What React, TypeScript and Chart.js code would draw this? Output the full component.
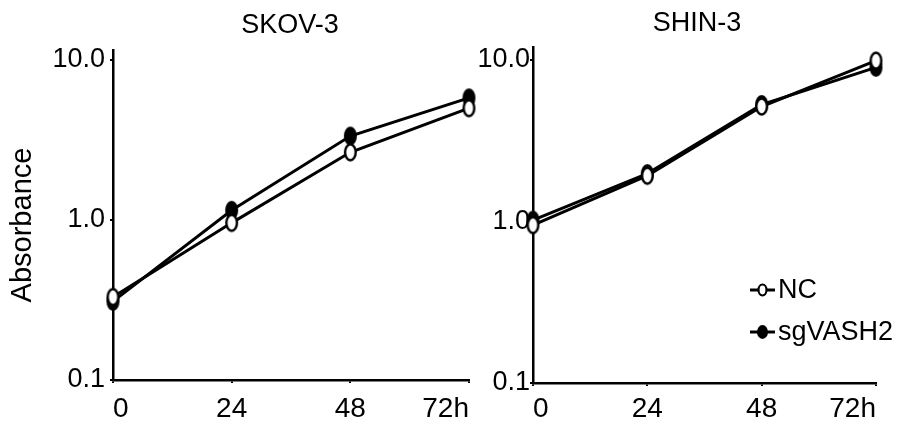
import React, { useEffect, useRef } from "react";
import { Chart, registerables } from "chart.js";

Chart.register(...registerables);

// ---- data ----
const timePoints = [0, 24, 48, 72];
const xTickLabels = ["0", "24", "48", "72h"];
const yTickValues = [0.1, 1, 10];
const yTickLabels = ["0.1", "1.0", "10.0"];
const seriesNames = ["NC", "sgVASH2"];
const panelTitles = ["SKOV-3", "SHIN-3"];
const yAxisTitle = "Absorbance";

const skovNC = [0.33, 0.96, 2.65, 5.0];
const skovSg = [0.31, 1.15, 3.35, 5.8];
const shinNC = [0.95, 1.92, 5.15, 9.9];
const shinSg = [1.02, 1.98, 5.3, 9.0];

const FONT = "'Liberation Sans', Arial, sans-serif";

function makeMarker(filled: boolean, rx: number, ry: number, lw: number) {
  const c = document.createElement("canvas");
  c.width = Math.ceil(2 * rx + lw + 2);
  c.height = Math.ceil(2 * ry + lw + 2);
  const ctx = c.getContext("2d")!;
  ctx.beginPath();
  ctx.ellipse(c.width / 2, c.height / 2, rx, ry, 0, 0, Math.PI * 2);
  ctx.fillStyle = filled ? "#000" : "#fff";
  ctx.fill();
  ctx.lineWidth = lw;
  ctx.strokeStyle = "#000";
  ctx.stroke();
  return c;
}

const decorPlugin = {
  id: "panelDecor",
  afterDraw(chart: any, _args: any, opts: any) {
    const ctx = chart.ctx as CanvasRenderingContext2D;
    ctx.save();
    ctx.fillStyle = "#000";
    if (opts.title) {
      ctx.font = `${opts.title.size}px ${FONT}`;
      ctx.textAlign = "center";
      ctx.textBaseline = "middle";
      ctx.fillText(opts.title.text, opts.title.x, opts.title.y);
    }
    if (opts.yTitle) {
      ctx.save();
      ctx.translate(opts.yTitle.x, opts.yTitle.y);
      ctx.rotate(-Math.PI / 2);
      ctx.font = `${opts.yTitle.size}px ${FONT}`;
      ctx.textAlign = "center";
      ctx.textBaseline = "middle";
      ctx.fillText(opts.yTitle.text, 0, 0);
      ctx.restore();
    }
    if (opts.legend) {
      const L = opts.legend;
      chart.data.datasets.forEach((ds: any, i: number) => {
        const y = L.y + i * L.gap;
        ctx.strokeStyle = "#000";
        ctx.lineWidth = 3;
        ctx.beginPath();
        ctx.moveTo(L.x, y);
        ctx.lineTo(L.x + L.lineLen, y);
        ctx.stroke();
        const m = L.markers[i];
        ctx.drawImage(m, L.x + L.lineLen / 2 - m.width / 2, y - m.height / 2);
        ctx.font = `${L.size}px ${FONT}`;
        ctx.textAlign = "left";
        ctx.textBaseline = "middle";
        ctx.fillText(ds.label, L.x + L.lineLen + L.textGap, y + 1);
      });
    }
    ctx.restore();
  },
};

interface PanelProps {
  left: number;
  width: number;
  title: string;
  nc: number[];
  sg: number[];
  yWidth: number;
  xHeight: number;
  padTop: number;
  padRight: number;
  yMax: number;
  yLabelPad: number;
  xLabelPad: number;
  titleX: number;
  titleY: number;
  showYTitle: boolean;
  showLegend: boolean;
}

function Panel(p: PanelProps) {
  const ref = useRef<HTMLCanvasElement>(null);
  useEffect(() => {
    const openM = makeMarker(false, 5.3, 8, 2.4);
    const fillM = makeMarker(true, 5.5, 8.5, 2);
    const openL = makeMarker(false, 4, 5.5, 2.2);
    const fillL = makeMarker(true, 4.5, 6, 2);
    const toPts = (vals: number[]) => timePoints.map((t, i) => ({ x: t, y: vals[i] }));
    const chart = new Chart(ref.current!, {
      type: "line",
      data: {
        datasets: [
          {
            label: seriesNames[0],
            data: toPts(p.nc),
            borderColor: "#000",
            borderWidth: 3,
            pointStyle: openM as any,
            pointRadius: 6,
            tension: 0,
            clip: false as any,
          },
          {
            label: seriesNames[1],
            data: toPts(p.sg),
            borderColor: "#000",
            borderWidth: 3,
            pointStyle: fillM as any,
            pointRadius: 6,
            tension: 0,
            clip: false as any,
          },
        ],
      },
      options: {
        responsive: false,
        animation: false,
        events: [],
        layout: { padding: { top: p.padTop, right: p.padRight, left: 0, bottom: 0 } },
        scales: {
          x: {
            type: "linear",
            min: 0,
            max: 72,
            afterBuildTicks: (s: any) => {
              s.ticks = timePoints.map((v) => ({ value: v }));
            },
            afterFit: (s: any) => {
              s.height = p.xHeight;
            },
            ticks: {
              align: "inner",
              maxRotation: 0,
              autoSkip: false,
              padding: p.xLabelPad,
              color: "#000",
              font: { family: FONT, size: 28 },
              callback: (v: any) => {
                const i = timePoints.indexOf(Number(v));
                return i >= 0 ? xTickLabels[i] : "";
              },
            },
            grid: { display: true, drawOnChartArea: false, drawTicks: true, tickLength: 3, color: "#000", lineWidth: 2 },
            border: { display: true, color: "#000", width: 2.5 },
          },
          y: {
            type: "logarithmic",
            min: 0.1,
            max: p.yMax,
            afterBuildTicks: (s: any) => {
              s.ticks = yTickValues.map((v) => ({ value: v }));
            },
            afterFit: (s: any) => {
              s.width = p.yWidth;
            },
            ticks: {
              autoSkip: false,
              padding: p.yLabelPad,
              color: "#000",
              font: { family: FONT, size: 27 },
              callback: (v: any) => {
                const i = yTickValues.indexOf(Number(v));
                return i >= 0 ? yTickLabels[i] : "";
              },
            },
            grid: { display: true, drawOnChartArea: false, drawTicks: true, tickLength: 3, color: "#000", lineWidth: 2 },
            border: { display: true, color: "#000", width: 2.5 },
          },
        },
        plugins: {
          legend: { display: false },
          tooltip: { enabled: false },
          title: { display: false },
          panelDecor: {
            title: { text: p.title, x: p.titleX, y: p.titleY, size: 27 },
            yTitle: p.showYTitle ? { text: yAxisTitle, x: 23, y: 225, size: 29 } : null,
            legend: p.showLegend
              ? { x: 280, y: 290, gap: 42, lineLen: 25, textGap: 3, size: 27, markers: [openL, fillL] }
              : null,
          },
        } as any,
      },
      plugins: [decorPlugin],
    });
    return () => chart.destroy();
  }, []);
  return (
    <canvas
      ref={ref}
      width={p.width}
      height={426}
      style={{ position: "absolute", left: p.left, top: 0, width: p.width, height: 426 }}
    />
  );
}

export default function App() {
  return (
    <div style={{ position: "fixed", left: 0, top: 0, width: 902, height: 426, background: "#fff" }}>
      <Panel
        left={0}
        width={480}
        title={panelTitles[0]}
        nc={skovNC}
        sg={skovSg}
        yWidth={113}
        xHeight={46}
        padTop={50}
        padRight={11}
        yMax={11.55}
        yLabelPad={5}
        xLabelPad={9}
        titleX={290}
        titleY={26}
        showYTitle={true}
        showLegend={false}
      />
      <Panel
        left={470}
        width={432}
        title={panelTitles[1]}
        nc={shinNC}
        sg={shinSg}
        yWidth={63}
        xHeight={43}
        padTop={47}
        padRight={26}
        yMax={12.03}
        yLabelPad={0}
        xLabelPad={6}
        titleX={227}
        titleY={24}
        showYTitle={false}
        showLegend={true}
      />
    </div>
  );
}
